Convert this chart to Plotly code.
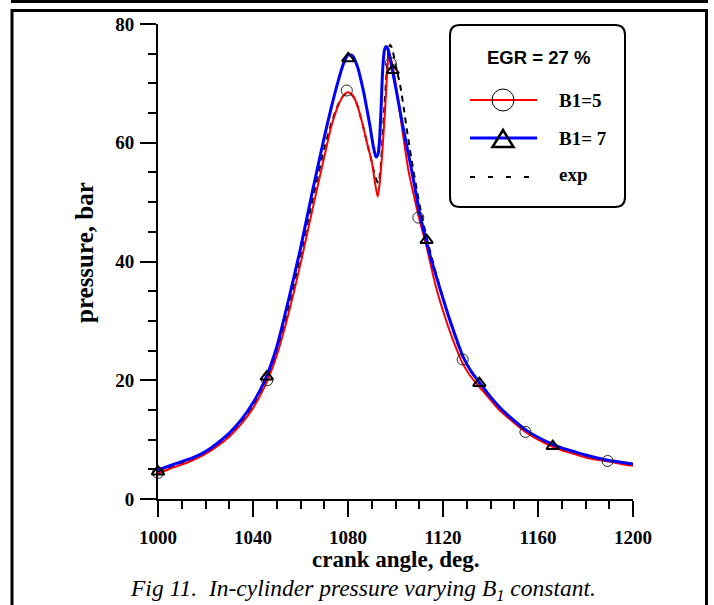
import plotly.graph_objects as go

# ---- data: crank angle (deg) and in-cylinder pressure (bar) ----
b5_angle = [1000, 1005, 1010, 1015, 1020, 1025, 1030, 1035, 1040, 1045, 1050, 1055,
            1060, 1065, 1070, 1073, 1076, 1078, 1080, 1082, 1084, 1086.4, 1088, 1090,
            1091.4, 1092.5, 1093.3, 1094.2, 1095.6, 1096.3, 1097.2, 1098, 1099, 1101,
            1103, 1105.4, 1108, 1110, 1113, 1116.6, 1120.8, 1124, 1127.6, 1131, 1135,
            1140, 1143.2, 1150, 1155, 1160, 1165, 1170, 1175, 1180, 1185, 1190, 1195, 1200]
b5_pressure = [4.3, 5.1, 5.8, 6.6, 7.6, 8.9, 10.5, 12.6, 15.3, 19.0, 24.2, 31.3,
               39.6, 48.7, 57.6, 62.8, 66.4, 67.9, 68.5, 68.0, 66.2, 62.7, 60.0, 56.8,
               53.2, 50.9, 53.0, 57.1, 65.5, 70.6, 75.3, 74.3, 72.5, 67.5,
               61.8, 55.4, 50.6, 47.2, 42.6, 36.4, 30.7, 27.0, 23.4, 21.0, 19.0,
               16.7, 15.2, 12.8, 11.2, 10.0, 9.0, 8.2, 7.6, 7.0, 6.6, 6.3, 5.9, 5.6]

b7_angle = [1000, 1005, 1010, 1015, 1020, 1025, 1030, 1035, 1040, 1045, 1050, 1055,
            1060, 1065, 1070, 1073, 1076, 1078, 1080, 1082, 1084, 1086.4, 1088, 1089.3,
            1090.7, 1091.8, 1092.6, 1093.2, 1093.9, 1094.6, 1095.3, 1096, 1096.8, 1098,
            1100, 1103, 1106, 1108, 1110, 1112, 1115, 1118, 1122, 1125, 1128.4, 1132,
            1135, 1140, 1145, 1150, 1155, 1160, 1165, 1170, 1175, 1180, 1185, 1190, 1195, 1200]
b7_pressure = [4.9, 5.6, 6.3, 7.0, 8.0, 9.4, 11.1, 13.3, 16.2, 20.0, 25.6, 33.6,
               42.2, 51.8, 60.9, 66.0, 70.6, 73.2, 74.8, 74.6, 72.8, 68.9, 65.6, 62.7,
               59.3, 57.6, 58.0, 60.0, 65.5, 72.3, 75.5, 76.2, 75.8, 73.6,
               69.5, 63.0, 57.0, 52.8, 48.5, 45.0, 40.4, 36.4, 31.2, 27.7, 24.0, 21.4,
               19.8, 17.2, 15.0, 13.2, 11.6, 10.4, 9.4, 8.6, 8.0, 7.4, 6.9, 6.5, 6.2, 5.9]

exp_angle = [1000, 1005, 1010, 1015, 1020, 1025, 1030, 1035, 1040, 1045, 1050, 1055,
             1060, 1065, 1070, 1073, 1076, 1078, 1080, 1082, 1084, 1086.4, 1088, 1090,
             1091.5, 1092.8, 1093.8, 1094.5, 1095.3, 1096.2, 1097, 1097.7, 1098.5, 1100,
             1102, 1103.5, 1105, 1107, 1109, 1111, 1114, 1118, 1122, 1128, 1135,
             1140, 1145, 1150, 1155, 1160, 1165, 1170, 1180, 1190, 1200]
exp_pressure = [4.6, 5.3, 6.0, 6.8, 7.8, 9.1, 10.8, 12.9, 15.7, 19.5, 24.9, 32.3,
                41.0, 50.2, 59.0, 63.3, 66.6, 67.9, 68.4, 67.9, 66.2, 62.7, 60.0, 56.8,
                54.2, 53.2, 56.0, 60.5, 65.8, 71.5, 75.2, 76.5, 76.0, 73.2,
                69.6, 65.8, 61.6, 56.6, 52.0, 47.8, 42.6, 36.6, 31.2, 24.2, 19.6,
                17.0, 14.8, 13.0, 11.4, 10.2, 9.2, 8.4, 7.2, 6.4, 5.8]

# symbols placed along the computed curves
b5_mark_angle = [1000, 1046, 1079.5, 1098, 1109.6, 1128.3, 1154.7, 1189.3]
b5_mark_pressure = [4.4, 20.0, 68.8, 73.4, 47.4, 23.5, 11.3, 6.4]
b7_mark_angle = [1000, 1045.8, 1080.1, 1098.8, 1113.1, 1135.3, 1166.2]
b7_mark_pressure = [4.6, 20.6, 74.2, 72.2, 43.6, 19.5, 8.9]

x_ticks = [1000, 1040, 1080, 1120, 1160, 1200]
y_ticks = [0, 20, 40, 60, 80]

SERIF = "Liberation Serif"
SANS = "Liberation Sans"

W, H = 714, 605
L, R, T, B = 158, 81, 24, 106
PW = W - L - R
PH = H - T - B


def xp(px):
    return (px - L) / PW


def yp(py):
    return (H - B - py) / PH


fig = go.Figure()

fig.add_trace(go.Scatter(x=exp_angle, y=exp_pressure, mode="lines",
                         line=dict(color="black", width=2, dash="6px,5px", shape="spline", smoothing=0.6),
                         showlegend=False))
fig.add_trace(go.Scatter(x=b5_angle, y=b5_pressure, mode="lines",
                         line=dict(color="#ff0000", width=2, shape="spline", smoothing=0.6),
                         showlegend=False))
fig.add_trace(go.Scatter(x=b7_angle, y=b7_pressure, mode="lines",
                         line=dict(color="#0000ff", width=3, shape="spline", smoothing=0.6),
                         showlegend=False))
fig.add_trace(go.Scatter(x=b5_mark_angle, y=b5_mark_pressure, mode="markers",
                         marker=dict(symbol="circle-open", size=11, color="#222222",
                                     line=dict(width=1, color="#222222")),
                         cliponaxis=False, showlegend=False))
fig.add_trace(go.Scatter(x=b7_mark_angle, y=b7_mark_pressure, mode="markers",
                         marker=dict(symbol="triangle-up-open", size=11, color="black",
                                     line=dict(width=2, color="black")),
                         cliponaxis=False, showlegend=False))

axis_common = dict(
    showgrid=False, zeroline=False, showline=True, linecolor="black", linewidth=2,
    ticks="outside", ticklen=16, tickwidth=2, tickcolor="black",
    tickfont=dict(family=SERIF, size=19, color="black", weight="bold"),
)
fig.update_xaxes(range=[1000, 1200], tickvals=x_ticks, ticklabelstandoff=4,
                 minor=dict(dtick=10, ticklen=8, tickwidth=2, tickcolor="black", ticks="outside"),
                 **axis_common)
fig.update_yaxes(range=[0, 80], tickvals=y_ticks, ticklabelstandoff=2,
                 minor=dict(dtick=5, ticklen=8, tickwidth=2, tickcolor="black", ticks="outside"),
                 **axis_common)

shapes = []
# page frame
shapes.append(dict(type="line", xref="paper", yref="paper",
                   x0=xp(11), x1=xp(708), y0=yp(1.5), y1=yp(1.5),
                   line=dict(color="black", width=3)))
shapes.append(dict(type="rect", xref="paper", yref="paper",
                   x0=xp(12), x1=xp(706.5), y0=yp(10.5), y1=yp(640),
                   line=dict(color="black", width=3)))

# legend box with rounded corners
bx0, by0, bx1, by1, rr = 450, 25, 625, 207, 10
path = (f"M {xp(bx0 + rr)},{yp(by0)} L {xp(bx1 - rr)},{yp(by0)} "
        f"Q {xp(bx1)},{yp(by0)} {xp(bx1)},{yp(by0 + rr)} "
        f"L {xp(bx1)},{yp(by1 - rr)} Q {xp(bx1)},{yp(by1)} {xp(bx1 - rr)},{yp(by1)} "
        f"L {xp(bx0 + rr)},{yp(by1)} Q {xp(bx0)},{yp(by1)} {xp(bx0)},{yp(by1 - rr)} "
        f"L {xp(bx0)},{yp(by0 + rr)} Q {xp(bx0)},{yp(by0)} {xp(bx0 + rr)},{yp(by0)} Z")
shapes.append(dict(type="path", xref="paper", yref="paper", path=path,
                   line=dict(color="black", width=2), fillcolor="rgba(0,0,0,0)"))

# legend samples
lx0, lx1, lxc = 470, 537, 503
shapes.append(dict(type="line", xref="paper", yref="paper",
                   x0=xp(lx0), x1=xp(lx1), y0=yp(100), y1=yp(100),
                   line=dict(color="#ff0000", width=2)))
shapes.append(dict(type="circle", xref="paper", yref="paper",
                   x0=xp(lxc - 11), x1=xp(lxc + 11), y0=yp(111), y1=yp(89),
                   line=dict(color="black", width=1)))
shapes.append(dict(type="line", xref="paper", yref="paper",
                   x0=xp(lx0), x1=xp(lx1), y0=yp(138), y1=yp(138),
                   line=dict(color="#0000ff", width=3)))
shapes.append(dict(type="path", xref="paper", yref="paper",
                   path=f"M {xp(lxc - 10.5)},{yp(147)} L {xp(lxc + 10.5)},{yp(147)} L {xp(lxc)},{yp(130)} Z",
                   line=dict(color="black", width=2.5)))
shapes.append(dict(type="line", xref="paper", yref="paper",
                   x0=xp(lx0), x1=xp(530), y0=yp(177), y1=yp(177),
                   line=dict(color="black", width=2, dash="5px,13px")))

annotations = [
    dict(text="EGR = 27 %", x=xp(538), y=yp(57), xanchor="center", yanchor="middle",
         font=dict(family=SANS, size=18.5, color="black", weight="bold")),
    dict(text="B1=5", x=xp(557), y=yp(100), xanchor="left", yanchor="middle",
         font=dict(family=SERIF, size=19, color="black", weight="bold")),
    dict(text="B1= 7", x=xp(557), y=yp(138), xanchor="left", yanchor="middle",
         font=dict(family=SERIF, size=19, color="black", weight="bold")),
    dict(text="exp", x=xp(557), y=yp(175), xanchor="left", yanchor="middle",
         font=dict(family=SERIF, size=19, color="black", weight="bold")),
    dict(text="crank angle, deg.", x=xp(395), y=yp(559), xanchor="center", yanchor="middle",
         font=dict(family=SERIF, size=23, color="black", weight="bold")),
    dict(text="pressure, bar", x=xp(85), y=yp(253), xanchor="center", yanchor="middle",
         textangle=-90, font=dict(family=SERIF, size=25, color="black", weight="bold")),
    dict(text="<i>Fig 11.\u00a0 In-cylinder pressure varying B<sub>1</sub> constant.</i>",
         x=xp(363), y=yp(590), xanchor="center", yanchor="middle",
         font=dict(family=SERIF, size=23.5, color="black")),
]
for a in annotations:
    a.update(xref="paper", yref="paper", showarrow=False)

fig.update_layout(
    width=W, height=H, autosize=False,
    margin=dict(l=L, r=R, t=T, b=B, pad=0),
    paper_bgcolor="white", plot_bgcolor="white",
    shapes=shapes, annotations=annotations,
    showlegend=False,
)

fig.write_html("out.html")
